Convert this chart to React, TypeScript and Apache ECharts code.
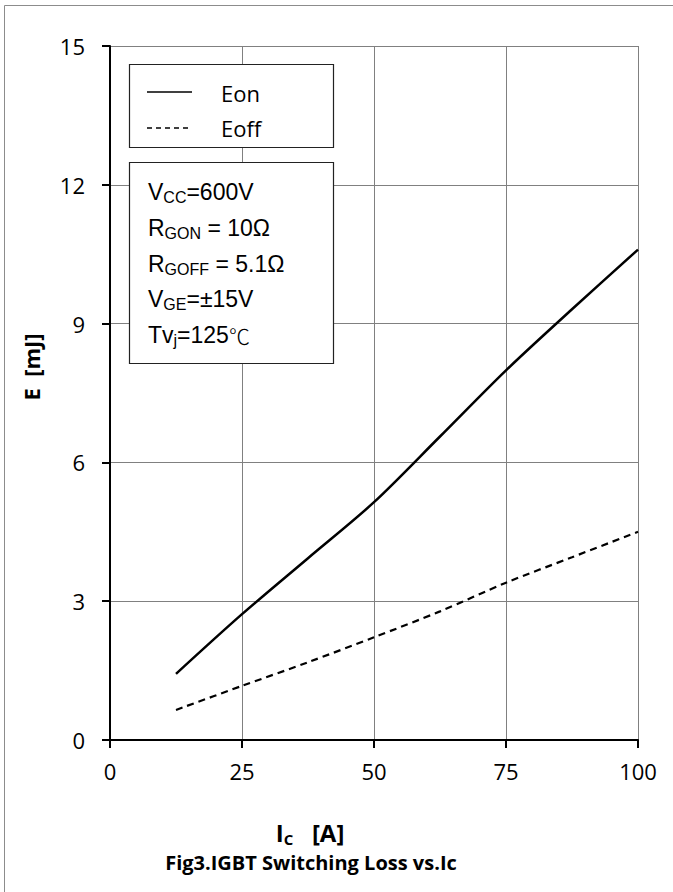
import React, { useEffect, useRef } from "react";
import * as echarts from "echarts";

// Collector current Ic [A]
const icValues = [12.5, 25, 37.5, 50, 62.5, 75, 87.5, 100];
// Switching energies [mJ]
const eonValues = [1.43, 2.72, 3.93, 5.14, 6.56, 7.99, 9.31, 10.6];
const eoffValues = [0.65, 1.17, 1.68, 2.22, 2.78, 3.4, 3.95, 4.5];

const legendNames = ["Eon", "Eoff"];
const conditionLines = [
  "{m|V}{s|CC}{m|=600V}",
  "{m|R}{s|GON}{m| = 10Ω}",
  "{m|R}{s|GOFF}{m| = 5.1Ω}",
  "{m|V}{s|GE}{m|=±15V}",
  "{m|Tv}{s|j}{m|=125}{c|℃}",
];
const xAxisTitle = "{m|I}{s|C}{m|   [A]}";
const yAxisTitle = "E  [mJ]";
const caption = "Fig3.IGBT Switching Loss vs.Ic";

const SANS = "'Open Sans', 'DejaVu Sans', sans-serif";
const ARIAL = "'Liberation Sans', Arial, sans-serif";

export default function App() {
  const ref = useRef<HTMLDivElement>(null);

  useEffect(() => {
    if (!ref.current) return;
    const chart = echarts.init(ref.current, null, { renderer: "svg" });

    const condRich = {
      m: { fontSize: 23, fontFamily: ARIAL, color: "#000", lineHeight: 26 },
      s: { fontSize: 16, fontFamily: ARIAL, color: "#000", lineHeight: 16, verticalAlign: "bottom" },
      c: { fontSize: 21, fontFamily: "'Noto Sans CJK SC', sans-serif", fontWeight: 300, color: "#000", lineHeight: 26 },
    };
    const condY = [192, 228, 264, 299, 335];

    const graphics: any[] = [
      // outer frame
      {
        type: "rect",
        z: 1,
        silent: true,
        shape: { x: 4.5, y: 5.5, width: 720, height: 920 },
        style: { fill: "none", stroke: "#8c8c8c", lineWidth: 1 },
      },
      // legend box
      {
        type: "rect",
        z: 20,
        shape: { x: 129.5, y: 64.5, width: 204, height: 83 },
        style: { fill: "#fff", stroke: "#222", lineWidth: 1.2 },
      },
      {
        type: "line",
        z: 21,
        shape: { x1: 147, y1: 92, x2: 192, y2: 92 },
        style: { stroke: "#000", lineWidth: 1.5 },
      },
      {
        type: "line",
        z: 21,
        shape: { x1: 147, y1: 128, x2: 191, y2: 128 },
        style: { stroke: "#000", lineWidth: 1.5, lineDash: [5, 4] },
      },
      {
        type: "text",
        z: 21,
        x: 221,
        y: 93,
        style: {
          text: legendNames[0],
          font: `22px ${SANS}`,
          fill: "#000",
          textAlign: "left",
          textVerticalAlign: "middle",
        },
      },
      {
        type: "text",
        z: 21,
        x: 221,
        y: 128,
        style: {
          text: legendNames[1],
          font: `22px ${SANS}`,
          fill: "#000",
          textAlign: "left",
          textVerticalAlign: "middle",
        },
      },
      // conditions box
      {
        type: "rect",
        z: 20,
        shape: { x: 129.5, y: 162.5, width: 204, height: 201 },
        style: { fill: "#fff", stroke: "#222", lineWidth: 1.2 },
      },
      ...conditionLines.map((t, i) => ({
        type: "text",
        z: 21,
        x: 148,
        y: condY[i],
        style: {
          text: t,
          rich: condRich,
          textAlign: "left",
          textVerticalAlign: "middle",
        },
      })),
      // y axis title
      {
        type: "text",
        z: 5,
        x: 31,
        y: 367,
        rotation: Math.PI / 2,
        style: {
          text: yAxisTitle,
          font: `bold 22px ${SANS}`,
          fill: "#000",
          textAlign: "center",
          textVerticalAlign: "middle",
        },
      },
      // x axis title
      {
        type: "text",
        z: 5,
        x: 310,
        y: 832,
        style: {
          text: xAxisTitle,
          rich: {
            m: { fontSize: 24, fontWeight: "bold", fontFamily: SANS, color: "#000", lineHeight: 28 },
            s: { fontSize: 15, fontWeight: "bold", fontFamily: SANS, color: "#000", lineHeight: 14, verticalAlign: "bottom" },
          },
          textAlign: "center",
          textVerticalAlign: "middle",
        },
      },
      // caption
      {
        type: "text",
        z: 5,
        x: 311,
        y: 862,
        style: {
          text: caption,
          font: `bold 20px ${SANS}`,
          fill: "#000",
          textAlign: "center",
          textVerticalAlign: "middle",
        },
      },
    ];

    const option: any = {
      animation: false,
      backgroundColor: "#fff",
      grid: { left: 110, top: 46, right: 35, bottom: 152, containLabel: false },
      xAxis: {
        type: "value",
        min: 0,
        max: 100,
        interval: 25,
        axisLine: { show: true, onZero: false, lineStyle: { color: "#000", width: 2 } },
        axisTick: { show: true, inside: false, length: 8, lineStyle: { color: "#000", width: 2 } },
        axisLabel: { margin: 20, color: "#000", fontSize: 22, fontFamily: SANS },
        splitLine: { show: true, lineStyle: { color: "#808080", width: 1 } },
      },
      yAxis: {
        type: "value",
        min: 0,
        max: 15,
        interval: 3,
        axisLine: { show: true, onZero: false, lineStyle: { color: "#000", width: 2 } },
        axisTick: { show: true, inside: false, length: 8, lineStyle: { color: "#000", width: 2 } },
        axisLabel: { margin: 25, color: "#000", fontSize: 22, fontFamily: SANS },
        splitLine: { show: true, lineStyle: { color: "#808080", width: 1 } },
      },
      series: [
        {
          name: legendNames[0],
          type: "line",
          data: icValues.map((x, i) => [x, eonValues[i]]),
          showSymbol: false,
          smooth: 0.3,
          z: 5,
          lineStyle: { color: "#000", width: 2.5, type: "solid" },
        },
        {
          name: legendNames[1],
          type: "line",
          data: icValues.map((x, i) => [x, eoffValues[i]]),
          showSymbol: false,
          smooth: 0.3,
          z: 5,
          lineStyle: { color: "#000", width: 2.2, type: [7, 5] },
        },
      ],
      graphic: graphics,
    };

    chart.setOption(option);
    return () => chart.dispose();
  }, []);

  return (
    <div
      ref={ref}
      style={{ position: "absolute", left: 0, top: 0, width: 673, height: 892, background: "#fff" }}
    />
  );
}
